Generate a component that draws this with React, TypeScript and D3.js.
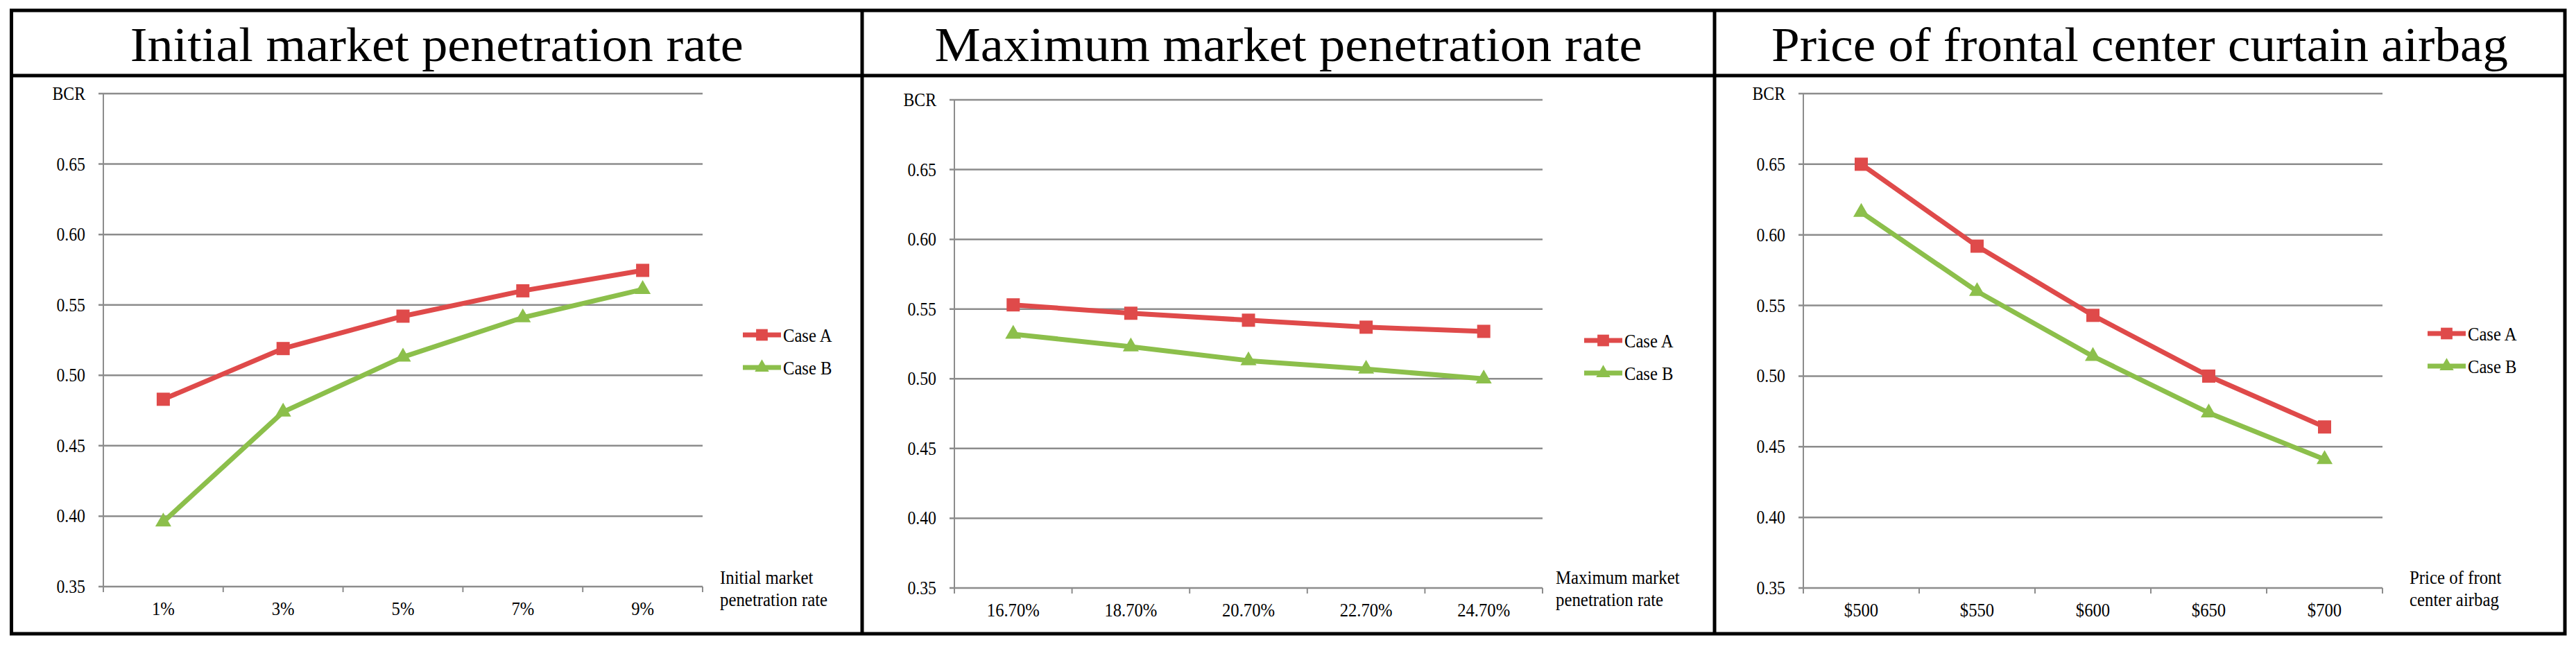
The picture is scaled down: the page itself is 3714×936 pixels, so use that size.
import React, { useEffect, useRef } from 'react';
import * as d3 from 'd3';

// values
const initialRateLabels = ['1%', '3%', '5%', '7%', '9%'];
const initialRateCaseA = [0.483, 0.519, 0.542, 0.560, 0.5745];
const initialRateCaseB = [0.396, 0.474, 0.513, 0.541, 0.561];

const maxRateLabels = ['16.70%', '18.70%', '20.70%', '22.70%', '24.70%'];
const maxRateCaseA = [0.553, 0.547, 0.542, 0.537, 0.534];
const maxRateCaseB = [0.532, 0.523, 0.513, 0.507, 0.500];

const priceLabels = ['$500', '$550', '$600', '$650', '$700'];
const priceCaseA = [0.650, 0.592, 0.543, 0.500, 0.464];
const priceCaseB = [0.616, 0.560, 0.514, 0.474, 0.441];

const yTickValues = [0.35, 0.40, 0.45, 0.50, 0.55, 0.60, 0.65, 0.70];
const yTopLabel = 'BCR';
const seriesNames = ['Case A', 'Case B'];

const WIDTH = 3714;
const HEIGHT = 936;
const RED = '#df4a4a';
const GREEN = '#8cbf4b';
const GRID = '#8c8c8c';
const SERIF = '"Liberation Serif", "Times New Roman", serif';

const panels = [
  {
    title: 'Initial market penetration rate',
    titleWidth: 884,
    categories: initialRateLabels,
    caseA: initialRateCaseA,
    caseB: initialRateCaseB,
    axisTitle: ['Initial market', 'penetration rate'],
    cell: [16.5, 1243],
    plot: { left: 149, right: 1013, top: 135, bottom: 846 },
    legend: { x: 1071, y: 483 },
    axisTitleX: 1038,
  },
  {
    title: 'Maximum market penetration rate',
    titleWidth: 1020,
    categories: maxRateLabels,
    caseA: maxRateCaseA,
    caseB: maxRateCaseB,
    axisTitle: ['Maximum market', 'penetration rate'],
    cell: [1243, 2472],
    plot: { left: 1376, right: 2224, top: 144, bottom: 848 },
    legend: { x: 2284, y: 491 },
    axisTitleX: 2243,
  },
  {
    title: 'Price of frontal center curtain airbag',
    titleWidth: 1062,
    categories: priceLabels,
    caseA: priceCaseA,
    caseB: priceCaseB,
    axisTitle: ['Price of front', 'center airbag'],
    cell: [2472, 3698],
    plot: { left: 2600, right: 3435, top: 135, bottom: 848 },
    legend: { x: 3500, y: 481 },
    axisTitleX: 3474,
  },
];

function condensed(
  g: d3.Selection<SVGGElement, unknown, null, undefined>,
  x: number, y: number, text: string, size: number, anchor: string, sx = 0.88
) {
  g.append('text')
    .attr('transform', `translate(${x},${y}) scale(${sx},1)`)
    .attr('text-anchor', anchor)
    .style('font-family', SERIF)
    .style('font-size', `${size}px`)
    .attr('fill', '#000')
    .text(text);
}

export default function App() {
  const svgRef = useRef<SVGSVGElement>(null);

  useEffect(() => {
    if (!svgRef.current) return;
    const svg = d3.select(svgRef.current);
    svg.selectAll('*').remove();

    const root = svg.append('g');

    panels.forEach(p => {
      const g = root.append('g');
      const { left, right, top, bottom } = p.plot;

      const x = d3.scaleBand<string>().domain(p.categories).range([left, right]).padding(0);
      const y = d3.scaleLinear().domain([0.35, 0.70]).range([bottom, top]);
      const cx = (c: string) => (x(c) as number) + x.bandwidth() / 2;

      // title
      g.append('text')
        .attr('x', (p.cell[0] + p.cell[1]) / 2)
        .attr('y', 88)
        .attr('text-anchor', 'middle')
        .attr('textLength', p.titleWidth)
        .attr('lengthAdjust', 'spacingAndGlyphs')
        .style('font-family', SERIF)
        .style('font-size', '70px')
        .text(p.title);

      // gridlines + y ticks
      g.selectAll('.grid')
        .data(yTickValues)
        .enter()
        .append('line')
        .attr('x1', left - 7)
        .attr('x2', right)
        .attr('y1', d => y(d))
        .attr('y2', d => y(d))
        .attr('stroke', GRID)
        .attr('stroke-width', 2.5);

      yTickValues.forEach((v, i) => {
        const label = i === yTickValues.length - 1 ? yTopLabel : v.toFixed(2);
        condensed(g, left - 26, y(v) + 9, label, 27, 'end');
      });

      // y axis line
      g.append('line')
        .attr('x1', left).attr('x2', left)
        .attr('y1', top).attr('y2', bottom + 8)
        .attr('stroke', GRID)
        .attr('stroke-width', 2);

      // x tick marks at band edges
      const edges = p.categories.map(c => x(c) as number).concat([right]);
      g.selectAll('.xtick')
        .data(edges)
        .enter()
        .append('line')
        .attr('x1', d => d).attr('x2', d => d)
        .attr('y1', bottom).attr('y2', bottom + 8)
        .attr('stroke', GRID)
        .attr('stroke-width', 2);

      p.categories.forEach(c => {
        condensed(g, cx(c), bottom + 41, c, 28, 'middle');
      });

      // axis title
      condensed(g, p.axisTitleX, 842, p.axisTitle[0], 27, 'start', 0.92);
      condensed(g, p.axisTitleX, 874, p.axisTitle[1], 27, 'start', 0.92);

      // series
      const series = [
        { name: seriesNames[0], values: p.caseA, color: RED, symbol: d3.symbolSquare, size: 361 },
        { name: seriesNames[1], values: p.caseB, color: GREEN, symbol: d3.symbolTriangle, size: 230 },
      ];

      const line = d3.line<number>()
        .x((_, i) => cx(p.categories[i]))
        .y(d => y(d));

      series.forEach((s, si) => {
        g.append('path')
          .attr('d', line(s.values))
          .attr('fill', 'none')
          .attr('stroke', s.color)
          .attr('stroke-width', 7)
          .attr('stroke-linejoin', 'round');

        g.selectAll(`.m${si}`)
          .data(s.values)
          .enter()
          .append('path')
          .attr('d', d3.symbol().type(s.symbol).size(s.size))
          .attr('transform', (d, i) => `translate(${cx(p.categories[i])},${y(d)})`)
          .attr('fill', s.color);

        // legend entry
        const ly = p.legend.y + si * 47;
        g.append('line')
          .attr('x1', p.legend.x).attr('x2', p.legend.x + 55)
          .attr('y1', ly).attr('y2', ly)
          .attr('stroke', s.color)
          .attr('stroke-width', 7);
        g.append('path')
          .attr('d', d3.symbol().type(s.symbol).size(si === 0 ? 280 : 180))
          .attr('transform', `translate(${p.legend.x + 27.5},${ly})`)
          .attr('fill', s.color);
        condensed(g, p.legend.x + 58, ly + 10, s.name, 28, 'start');
      });
    });

    // table frame
    root.append('rect')
      .attr('x', 16.5).attr('y', 15)
      .attr('width', 3698 - 16.5).attr('height', 914 - 15)
      .attr('fill', 'none')
      .attr('stroke', '#000')
      .attr('stroke-width', 5);
    root.append('line')
      .attr('x1', 16.5).attr('x2', 3698)
      .attr('y1', 109).attr('y2', 109)
      .attr('stroke', '#000')
      .attr('stroke-width', 5);
    [1243, 2472].forEach(xv => {
      root.append('line')
        .attr('x1', xv).attr('x2', xv)
        .attr('y1', 15).attr('y2', 914)
        .attr('stroke', '#000')
        .attr('stroke-width', 5);
    });
  }, []);

  return (
    <svg
      ref={svgRef}
      width={WIDTH}
      height={HEIGHT}
      style={{ position: 'absolute', left: 0, top: 0, background: '#fff' }}
    />
  );
}
